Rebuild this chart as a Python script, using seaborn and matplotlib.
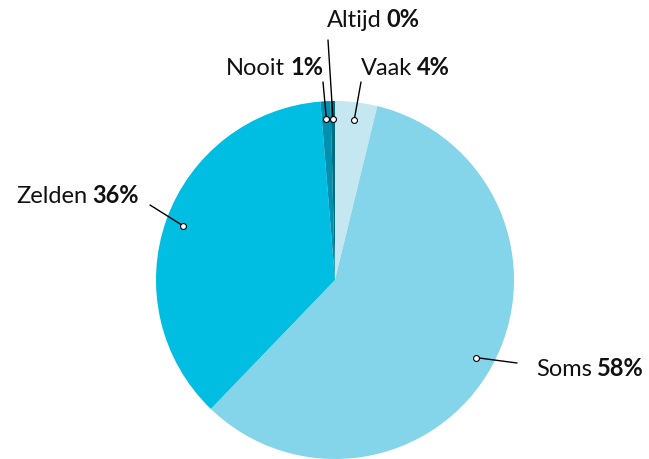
import numpy as np
import matplotlib.pyplot as plt
import seaborn as sns

# --- DATA ---
categories = ["Vaak", "Soms", "Zelden", "Nooit", "Altijd"]
shares = [3.8, 58.4, 36.5, 0.9, 0.4]
pct_labels = ["4%", "58%", "36%", "1%", "0%"]
colors = ["#c4e7f1", "#84d4ea", "#00bde2", "#0090b0", "#006c85"]

# --- LABEL LAYOUT (pixels, y measured from top) ---
line_ends = [(361, 82), (517, 363), (150, 205), (323, 82), (328, 40)]
text_align = ["left", "left", "right", "right", "left"]
text_offsets = [(0, 7), (19, -13), (-11, 2), (0, 7), (-1, 13)]

sns.set_theme(style="white")
plt.rcParams['font.family'] = ['Lato', 'DejaVu Sans']

W, H = 649, 459
fig = plt.figure(figsize=(W / 100, H / 100), dpi=100)
ax = fig.add_axes([0, 0, 1, 1])

cx, cy, R = 335, H - 280, 179
wedges, _ = ax.pie(
    shares, colors=colors, startangle=90, counterclock=False,
    center=(cx, cy), radius=R,
    wedgeprops=dict(linewidth=0),
)
ax.set_xlim(0, W)
ax.set_ylim(0, H)
ax.set_aspect("equal")
ax.axis("off")

renderer = fig.canvas.get_renderer()
fs = 17
gap = 5

for w, name, pct, end, align, off in zip(wedges, categories, pct_labels,
                                          line_ends, text_align, text_offsets):
    mid = np.deg2rad((w.theta1 + w.theta2) / 2)
    dot = (cx + 0.9 * R * np.cos(mid), cy + 0.9 * R * np.sin(mid))
    ex, ey = end[0], H - end[1]

    # leader line and dot
    ax.plot([dot[0], ex], [dot[1], ey], color="black", lw=1, zorder=3)
    ax.scatter([dot[0]], [dot[1]], s=18, color="white", edgecolor="black",
               linewidth=0.8, zorder=4)

    # two-part label: normal name + bold percentage
    if align == "left":
        t1 = ax.annotate(name, (ex, ey), xytext=off, textcoords="offset pixels",
                         ha="left", va="baseline", fontsize=fs, color="#111111")
        w1 = t1.get_window_extent(renderer).width
        ax.annotate(pct, (ex, ey), xytext=(off[0] + w1 + gap, off[1]),
                    textcoords="offset pixels", ha="left", va="baseline",
                    fontsize=fs, fontweight="bold", color="#111111")
    else:
        t2 = ax.annotate(pct, (ex, ey), xytext=off, textcoords="offset pixels",
                         ha="right", va="baseline", fontsize=fs,
                         fontweight="bold", color="#111111")
        w2 = t2.get_window_extent(renderer).width
        ax.annotate(name, (ex, ey), xytext=(off[0] - w2 - gap, off[1]),
                    textcoords="offset pixels", ha="right", va="baseline",
                    fontsize=fs, color="#111111")

fig.savefig("out.png", dpi=100)
